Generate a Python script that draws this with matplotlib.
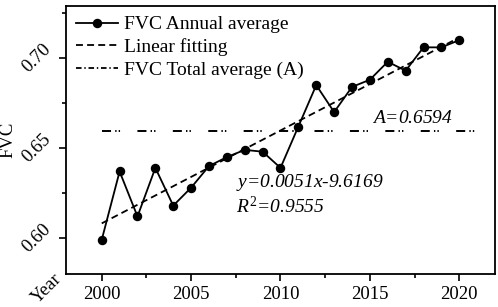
import numpy as np
import matplotlib.pyplot as plt
from matplotlib.lines import Line2D
from matplotlib.ticker import MultipleLocator

plt.rcParams['font.family'] = ['Liberation Serif', 'DejaVu Serif']
plt.rcParams['mathtext.fontset'] = 'custom'
plt.rcParams['mathtext.rm'] = 'Liberation Serif'
plt.rcParams['mathtext.it'] = 'Liberation Serif:italic'
plt.rcParams['xtick.direction'] = 'out'
plt.rcParams['ytick.direction'] = 'out'
plt.rcParams['lines.scale_dashes'] = False

# Data
years = np.arange(2000, 2021)
fvc = [0.599, 0.637, 0.612, 0.639, 0.618, 0.628, 0.640, 0.645, 0.649, 0.648,
       0.639, 0.662, 0.685, 0.670, 0.684, 0.688, 0.698, 0.693, 0.706, 0.706, 0.710]
fvc_mean = 0.6594
mean_span = [2000, 2021]

coef = np.polyfit(years, fvc, 1)
fit = np.polyval(coef, years)

fig = plt.figure(figsize=(4.98, 3.07), dpi=100)
ax = fig.add_axes([0.1325, 0.1075, 0.8615, 0.873])

l1, = ax.plot(years, fvc, color='k', lw=1.3, marker='o', ms=5.8)
l2, = ax.plot(years, fit, color='k', lw=1.3, dashes=(5, 3))
ax.plot(mean_span, [fvc_mean, fvc_mean], color='k', lw=1.4,
        dashes=(6.5, 3, 1, 1.5, 1, 12.5))
# legend shows a shorter dash-dot pattern for the average line
l3 = Line2D([], [], color='k', lw=1.3, dashes=(4, 2, 1, 2))

ax.set_xlim(1998, 2022)
ax.set_ylim(0.58, 0.729)
ax.xaxis.set_major_locator(MultipleLocator(5))
ax.xaxis.set_minor_locator(MultipleLocator(2.5))
ax.yaxis.set_minor_locator(MultipleLocator(0.025))
ax.set_yticks([0.60, 0.65, 0.70])
ax.set_yticklabels(['0.60', '0.65', '0.70'])
ax.tick_params(axis='both', which='major', labelsize=13.5, length=5, width=1.2)
ax.tick_params(axis='both', which='minor', length=3, width=1.2)
for lab in ax.get_yticklabels():
    lab.set_rotation(45)
    lab.set_va('center')
    lab.set_ha('right')
for s in ax.spines.values():
    s.set_linewidth(1.3)

ax.set_ylabel('FVC', fontsize=13.5, labelpad=2)
fig.text(0.094, 0.059, 'Year', fontsize=13.5, rotation=45, ha='center', va='center')

ax.text(2015.1, fvc_mean + 0.0025, r'$A$=0.6594', fontsize=14, style='italic', va='bottom')
ax.text(2007.5, 0.631, '$y$=0.0051$x$-9.6169', fontsize=14, style='italic', va='center')
ax.text(2007.5, 0.6175, '$R^2$=0.9555', fontsize=14, style='italic', va='center')

ax.legend([l1, l2, l3], ['FVC Annual average', 'Linear fitting', 'FVC Total average (A)'],
          loc='upper left', frameon=False, fontsize=14, handlelength=2.2,
          handletextpad=0.3, labelspacing=0.25, borderaxespad=0.3,
          borderpad=0.2)

fig.savefig('out.png', dpi=100)
